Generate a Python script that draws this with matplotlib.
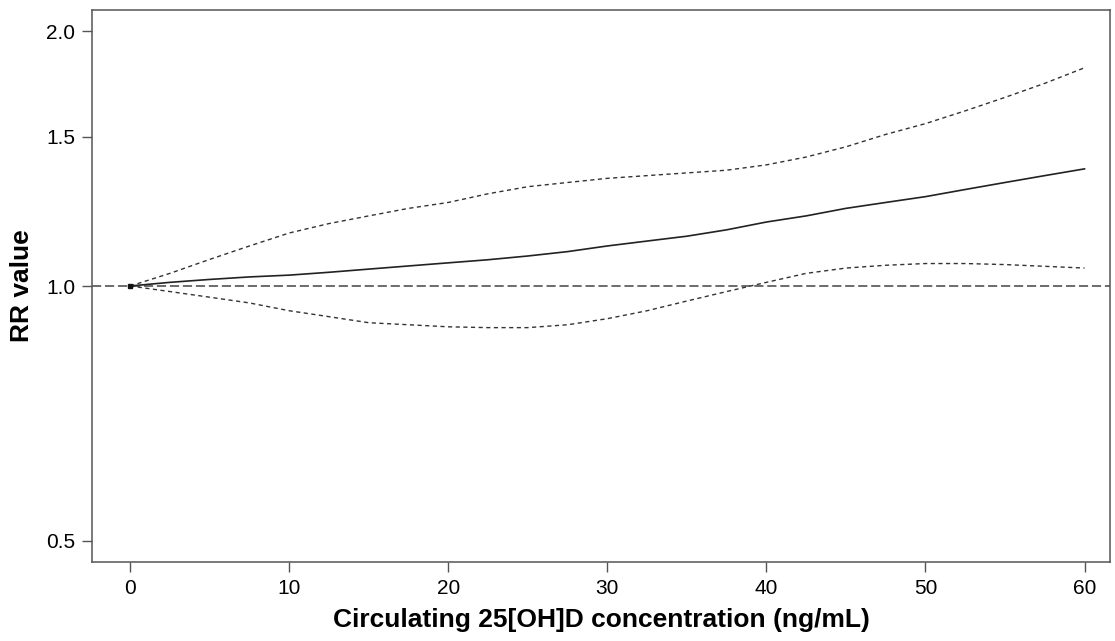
import numpy as np
import matplotlib.pyplot as plt
from matplotlib.ticker import FixedLocator, NullLocator

plt.rcParams['font.family'] = ['Liberation Sans', 'DejaVu Sans']

# values
conc = [0, 2.5, 5, 7.5, 10, 12.5, 15, 17.5, 20, 22.5, 25, 27.5, 30,
        32.5, 35, 37.5, 40, 42.5, 45, 47.5, 50, 52.5, 55, 57.5, 60]
rr = [1.0, 1.01, 1.018, 1.025, 1.03, 1.038, 1.047, 1.056, 1.065, 1.074,
      1.085, 1.098, 1.115, 1.13, 1.145, 1.165, 1.19, 1.21, 1.235, 1.255,
      1.275, 1.3, 1.325, 1.35, 1.375]
upper = [1.0, 1.035, 1.075, 1.115, 1.155, 1.185, 1.21, 1.235, 1.255, 1.285,
         1.31, 1.325, 1.34, 1.35, 1.36, 1.37, 1.39, 1.42, 1.46, 1.51,
         1.555, 1.61, 1.67, 1.735, 1.81]
lower = [1.0, 0.985, 0.97, 0.955, 0.935, 0.92, 0.905, 0.9, 0.895, 0.893,
         0.893, 0.9, 0.915, 0.935, 0.96, 0.985, 1.01, 1.035, 1.05, 1.058,
         1.063, 1.063, 1.06, 1.055, 1.05]

xticks = [0, 10, 20, 30, 40, 50, 60]
yticks = [0.5, 1.0, 1.5, 2.0]

fig = plt.figure(figsize=(11.15, 6.41), dpi=100)
ax = fig.add_axes([0.0825, 0.123, 0.913, 0.862])

ax.set_yscale('log')
ax.axhline(1.0, color='#444444', lw=1.1, ls=(0, (6, 2.5)))
ax.plot(conc, upper, color='#333333', lw=1.0, ls=(0, (3, 2.5)))
ax.plot(conc, lower, color='#333333', lw=1.0, ls=(0, (3, 2.5)))
ax.plot(conc, rr, color='#222222', lw=1.2)
ax.plot([0], [1.0], marker='s', ms=3, color='#111111')

ax.set_xlim(-2.4, 61.6)
ax.set_ylim(0.472, 2.12)
ax.xaxis.set_major_locator(FixedLocator(xticks))
ax.yaxis.set_major_locator(FixedLocator(yticks))
ax.yaxis.set_minor_locator(NullLocator())
ax.set_yticklabels(['%.1f' % v for v in yticks])

for s in ax.spines.values():
    s.set_color('#555555')
    s.set_linewidth(1.1)
ax.tick_params(length=7, width=1, color='#555555', labelsize=15, pad=5)

ax.set_xlabel('Circulating 25[OH]D concentration (ng/mL)', fontsize=19,
              fontweight='bold', labelpad=7)
ax.set_ylabel('RR value', fontsize=19, fontweight='bold', labelpad=9)

fig.savefig('out.png', dpi=100)
